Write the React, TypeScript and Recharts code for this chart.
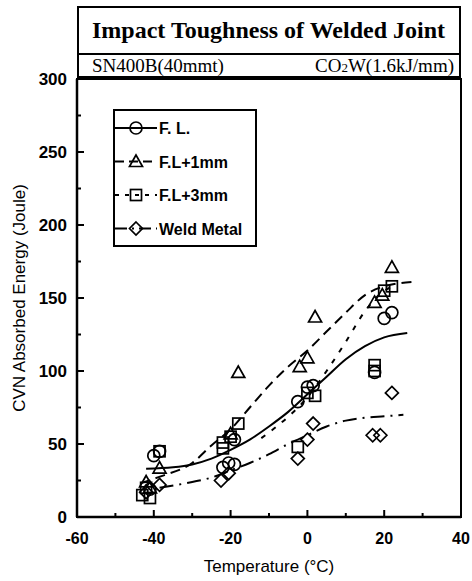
import { ComposedChart, Scatter, Line, XAxis, YAxis, ReferenceArea } from 'recharts'

// temperature (°C) / absorbed energy (J)
const flPoints = [[-40, 42], [-38.5, 45], [-41, 19], [-22, 34], [-20.5, 37], [-19, 36], [-19, 53], [-2.5, 79], [0, 89], [1.5, 90], [17.5, 99], [20, 136], [22, 140]]
const fl1Points = [[-42, 24], [-41, 20], [-38.5, 33.5], [-20, 57], [-18, 99], [-2, 103], [0, 109], [2, 137], [17.5, 147], [19.5, 152], [22, 171]]
const fl3Points = [[-38.5, 45], [-43, 15], [-41, 13], [-42, 20], [-22, 51], [-22, 47], [-20, 55], [-18, 64], [-2.5, 48], [0, 85], [2, 83], [17.5, 104], [17.5, 100], [20, 155], [22, 158]]
const weldPoints = [[-42, 17], [-38.5, 22], [-22.5, 25], [-20.5, 30], [-2.5, 40], [0, 53], [1.5, 64], [17, 56], [19, 56], [22, 85]]

// hand-drawn trend curves
const flCurve = [[-42, 33], [-35, 34], [-30, 36], [-25, 40], [-20, 46], [-15, 53], [-10, 62], [-5, 72], [0, 84], [5, 96], [10, 108], [15, 117], [20, 123], [26, 126]]
const fl1Curve = [[-43.5, 23], [-38, 28], [-30, 37], [-25, 49], [-20, 60], [-15, 75], [-10, 90], [-5, 103], [0, 114], [5, 127], [10, 140], [15, 152], [20, 158], [27.5, 161]]
const fl3Curve = [[-12, 54], [-8, 62], [-4, 71], [0, 82], [5, 100], [10, 120], [15, 141], [19, 153], [23.5, 159]]
const weldCurve = [[-38.5, 20], [-30, 24], [-25, 27], [-20, 32], [-15, 37], [-10, 43], [-5, 50], [0, 56], [5, 62], [10, 66], [15, 68], [20, 69], [25, 70]]

const xTicks = [-60, -50, -40, -30, -20, -10, 0, 10, 20, 30, 40]
const yTicks = [0, 25, 50, 75, 100, 125, 150, 175, 200, 225, 250, 275, 300]

const toXY = (arr: number[][]) => arr.map(([x, y]) => ({ x, y }))

const SANS = '"Liberation Sans", Arial, sans-serif'
const SERIF = '"Liberation Serif", "Times New Roman", serif'
const SW = 1.7

const CircleShape = (p: any) => <circle cx={p.cx} cy={p.cy} r={6} fill="none" stroke="#000" strokeWidth={SW} />
const TriangleShape = (p: any) => (
    <polygon points={`${p.cx},${p.cy - 6.5} ${p.cx - 6.5},${p.cy + 5} ${p.cx + 6.5},${p.cy + 5}`} fill="none" stroke="#000" strokeWidth={SW} />
)
const SquareShape = (p: any) => <rect x={p.cx - 5.5} y={p.cy - 5.5} width={11} height={11} fill="none" stroke="#000" strokeWidth={SW} />
const DiamondShape = (p: any) => (
    <polygon points={`${p.cx},${p.cy - 6.5} ${p.cx + 6.5},${p.cy} ${p.cx},${p.cy + 6.5} ${p.cx - 6.5},${p.cy}`} fill="none" stroke="#000" strokeWidth={SW} />
)

const XTick = ({ x, y, payload }: any) => {
    const major = payload.value % 20 === 0
    return (
        <g>
            <line x1={x} y1={y} x2={x} y2={y - (major ? 7 : 4)} stroke="#000" strokeWidth={2} />
            {major && (
                <text x={x} y={y + 27} textAnchor="middle" fontFamily={SANS} fontWeight="bold" fontSize={16} fill="#000">
                    {payload.value}
                </text>
            )}
        </g>
    )
}

const YTick = ({ x, y, payload }: any) => {
    const major = payload.value % 50 === 0
    return (
        <g>
            <line x1={x} y1={y} x2={x + (major ? 7 : 4)} y2={y} stroke="#000" strokeWidth={2} />
            {major && (
                <text x={x - 10} y={y + 6} textAnchor="end" fontFamily={SANS} fontWeight="bold" fontSize={17} fill="#000">
                    {payload.value}
                </text>
            )}
        </g>
    )
}

const legendRows = [
    { label: 'F. L.', dash: undefined, Shape: CircleShape },
    { label: 'F.L+1mm', dash: '9 5', Shape: TriangleShape },
    { label: 'F.L+3mm', dash: '4 6', Shape: SquareShape },
    { label: 'Weld Metal', dash: '12 5 2 5', Shape: DiamondShape },
]

function LegendBox() {
    return (
        <div style={{ position: 'absolute', left: 113, top: 109, width: 144, height: 138, border: '2px solid #000', boxSizing: 'border-box', background: '#fff' }}>
            <svg width={140} height={134}>
                {legendRows.map((r, i) => {
                    const cy = 17 + i * 33.5
                    return (
                        <g key={r.label}>
                            <line x1={0} y1={cy} x2={42} y2={cy} stroke="#000" strokeWidth={2} strokeDasharray={r.dash} />
                            <r.Shape cx={21} cy={cy} />
                            <text x={44} y={cy + 6} fontFamily={SANS} fontWeight="bold" fontSize={16}>{r.label}</text>
                        </g>
                    )
                })}
            </svg>
        </div>
    )
}

export default function App() {
    return (
        <div style={{ position: 'absolute', left: 0, top: 0, width: 472, height: 581, background: '#fff' }}>
            <div style={{ position: 'absolute', left: 77, top: 6, width: 384, height: 49, border: '2px solid #000', boxSizing: 'border-box', fontFamily: SERIF, fontWeight: 'bold', fontSize: 24, lineHeight: '45px', paddingLeft: 13, whiteSpace: 'nowrap' }}>
                Impact Toughness of Welded Joint
            </div>
            <div style={{ position: 'absolute', left: 77, top: 53, width: 384, height: 25, border: '2px solid #000', boxSizing: 'border-box', fontFamily: SERIF, fontSize: 19, lineHeight: '21px', paddingLeft: 13, paddingRight: 5, display: 'flex', justifyContent: 'space-between', whiteSpace: 'nowrap' }}>
                <span>SN400B(40mmt)</span>
                <span>CO<span style={{ fontSize: 13 }}>2</span>W(1.6kJ/mm)</span>
            </div>
            <ComposedChart width={472} height={581} margin={{ top: 79, right: 11, bottom: 24, left: 37 }}>
                <XAxis type="number" dataKey="x" domain={[-60, 40]} ticks={xTicks} interval={0} tickSize={0} tickMargin={0}
                    tickLine={false} tick={<XTick />} axisLine={{ stroke: '#000', strokeWidth: 2.5 }} height={40} allowDataOverflow />
                <YAxis type="number" dataKey="y" domain={[0, 300]} ticks={yTicks} interval={0} tickSize={0} tickMargin={0}
                    tickLine={false} tick={<YTick />} axisLine={{ stroke: '#000', strokeWidth: 2.5 }} width={40} allowDataOverflow />
                <ReferenceArea x1={-60} x2={40} y1={0} y2={300} fill="none" stroke="#000" strokeWidth={2} />
                <Line data={toXY(flCurve)} dataKey="y" type="monotone" stroke="#000" strokeWidth={2} dot={false} activeDot={false} isAnimationActive={false} />
                <Line data={toXY(fl1Curve)} dataKey="y" type="monotone" stroke="#000" strokeWidth={2} strokeDasharray="10 6" dot={false} activeDot={false} isAnimationActive={false} />
                <Line data={toXY(fl3Curve)} dataKey="y" type="monotone" stroke="#000" strokeWidth={2} strokeDasharray="5 8" dot={false} activeDot={false} isAnimationActive={false} />
                <Line data={toXY(weldCurve)} dataKey="y" type="monotone" stroke="#000" strokeWidth={2} strokeDasharray="14 6 2 6" dot={false} activeDot={false} isAnimationActive={false} />
                <Scatter data={toXY(flPoints)} dataKey="y" shape={CircleShape} isAnimationActive={false} />
                <Scatter data={toXY(fl1Points)} dataKey="y" shape={TriangleShape} isAnimationActive={false} />
                <Scatter data={toXY(fl3Points)} dataKey="y" shape={SquareShape} isAnimationActive={false} />
                <Scatter data={toXY(weldPoints)} dataKey="y" shape={DiamondShape} isAnimationActive={false} />
            </ComposedChart>
            <LegendBox />
            <div style={{ position: 'absolute', left: 20, top: 298, transform: 'translate(-50%, -50%) rotate(-90deg)', whiteSpace: 'nowrap', fontFamily: SANS, fontSize: 17 }}>
                CVN Absorbed Energy (Joule)
            </div>
            <div style={{ position: 'absolute', left: 269, top: 567, transform: 'translate(-50%, -50%)', whiteSpace: 'nowrap', fontFamily: SANS, fontSize: 17 }}>
                Temperature (°C)
            </div>
        </div>
    )
}
